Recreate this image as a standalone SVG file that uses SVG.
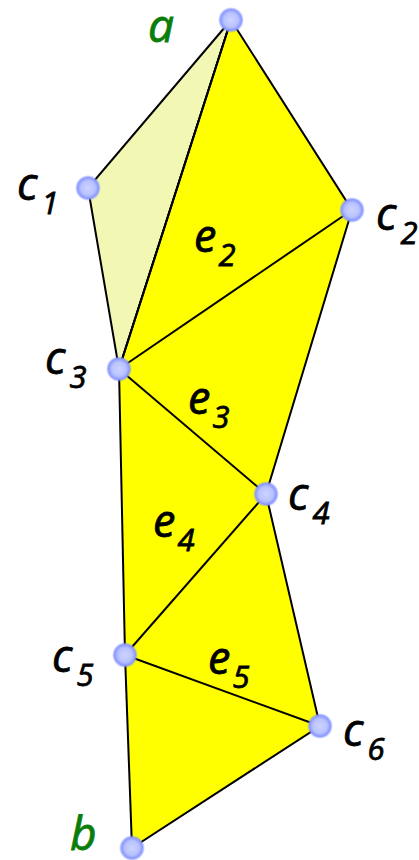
<svg xmlns="http://www.w3.org/2000/svg" width="419" height="860" viewBox="0 0 419 860">
<defs>
<radialGradient id="ng" cx="0.5" cy="0.5" r="0.5">
<stop offset="0" stop-color="#cdd4ff"/>
<stop offset="0.55" stop-color="#b8c2ff"/>
<stop offset="0.8" stop-color="#8a98ff"/>
<stop offset="1" stop-color="#8a98ff" stop-opacity="0"/>
</radialGradient>
</defs>
<style>
.l{font-family:"Open Sans","Noto Sans",sans-serif;font-style:italic;fill:#000;stroke:#000;stroke-width:0.8;font-size:45px}
.g{fill:#0a7d0a;stroke:#0a7d0a;font-size:46px}
.s{font-size:31px}
.e{stroke:#000;stroke-width:2;fill:none}
</style>
<g id="faces">
<polygon points="231,20 88,188 119,369" fill="#f2f7b4" stroke="#000" stroke-width="2"/>
<polygon points="231,20 352,210 266,494 320,726 132,848 125,655 119,369" fill="#ffff00" stroke="#000" stroke-width="2"/>
</g>
<g id="connectors">
<line class="e" x1="231" y1="20" x2="119" y2="369"/>
<line class="e" x1="119" y1="369" x2="352" y2="210"/>
<line class="e" x1="119" y1="369" x2="266" y2="494"/>
<line class="e" x1="266" y1="494" x2="125" y2="655"/>
<line class="e" x1="125" y1="655" x2="320" y2="726"/>
</g>
<g id="node-a"><circle cx="231" cy="20" r="13" fill="url(#ng)"/><text class="l g" x="148" y="42">a</text></g>
<g id="node-c1"><circle cx="88" cy="188" r="13" fill="url(#ng)"/><text class="l" x="17" y="200">c<tspan class="s" dx="4" dy="14">1</tspan></text></g>
<g id="node-c2"><circle cx="352" cy="210" r="13" fill="url(#ng)"/><text class="l" x="376" y="230">c<tspan class="s" dx="4" dy="14">2</tspan></text></g>
<g id="node-c3"><circle cx="119" cy="369" r="13" fill="url(#ng)"/><text class="l" x="45" y="374">c<tspan class="s" dx="4" dy="14">3</tspan></text></g>
<g id="node-c4"><circle cx="266" cy="494" r="13" fill="url(#ng)"/><text class="l" x="288" y="510">c<tspan class="s" dx="4" dy="14">4</tspan></text></g>
<g id="node-c5"><circle cx="125" cy="655" r="13" fill="url(#ng)"/><text class="l" x="52" y="672">c<tspan class="s" dx="4" dy="14">5</tspan></text></g>
<g id="node-c6"><circle cx="320" cy="726" r="13" fill="url(#ng)"/><text class="l" x="343" y="746">c<tspan class="s" dx="4" dy="14">6</tspan></text></g>
<g id="node-b"><circle cx="132" cy="848" r="13" fill="url(#ng)"/><text class="l g" x="70" y="850">b</text></g>
<g id="labels">
<text class="l" x="194" y="252">e<tspan class="s" dx="2" dy="14">2</tspan></text>
<text class="l" x="188" y="414">e<tspan class="s" dx="2" dy="14">3</tspan></text>
<text class="l" x="153" y="537">e<tspan class="s" dx="2" dy="14">4</tspan></text>
<text class="l" x="208" y="674">e<tspan class="s" dx="2" dy="14">5</tspan></text>
</g>
</svg>
